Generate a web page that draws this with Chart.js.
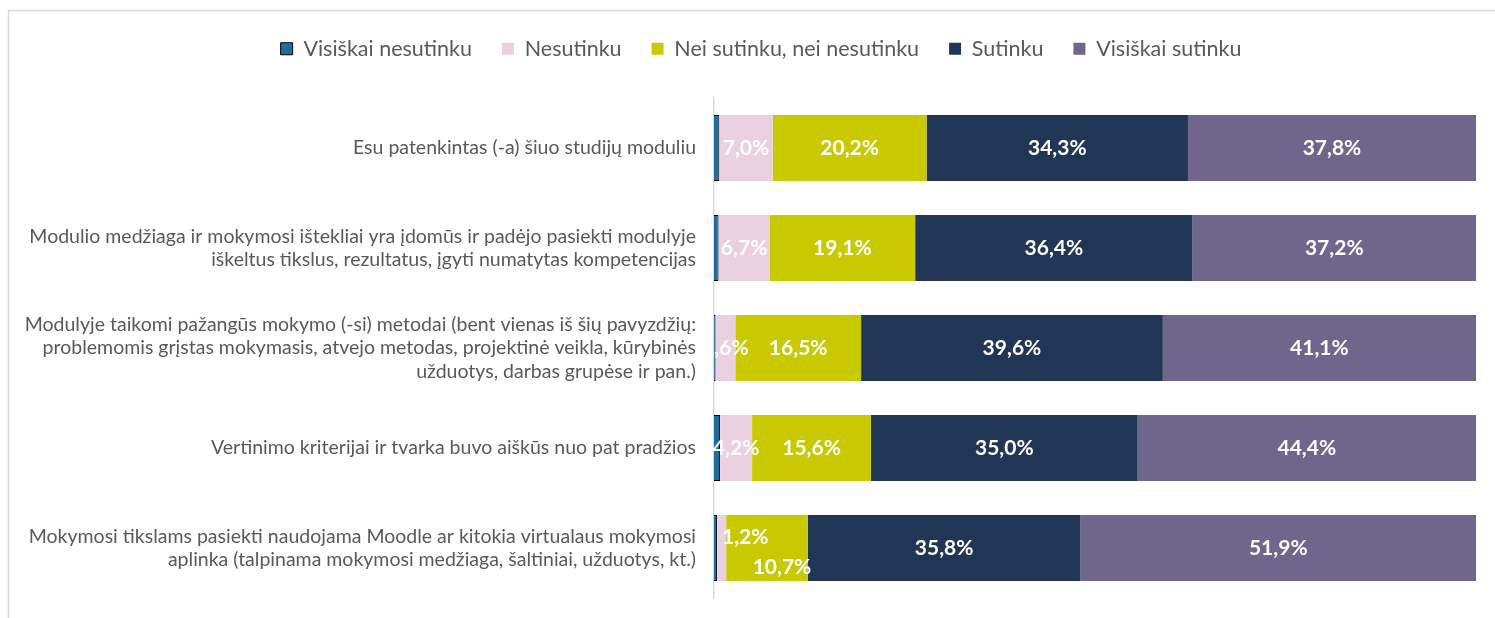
<!DOCTYPE html>
<html>
<head>
<meta charset="utf-8">
<script src="https://cdn.jsdelivr.net/npm/chart.js@4.4.1/dist/chart.umd.min.js"></script>
<style>
  html, body { margin: 0; padding: 0; background: #ffffff; }
  #wrap { position: relative; width: 1495px; height: 618px; }
</style>
</head>
<body>
<div id="wrap"><canvas id="c" width="1495" height="618"></canvas></div>
<script>
const categories = [
  "Esu patenkintas (-a) šiuo studijų moduliu",
  ["Modulio medžiaga ir mokymosi ištekliai yra įdomūs ir padėjo pasiekti modulyje", "iškeltus tikslus, rezultatus, įgyti numatytas kompetencijas"],
  ["Modulyje taikomi pažangūs mokymo (-si) metodai (bent vienas iš šių pavyzdžių:", "problemomis grįstas mokymasis, atvejo metodas, projektinė veikla, kūrybinės", "užduotys, darbas grupėse ir pan.)"],
  "Vertinimo kriterijai ir tvarka buvo aiškūs nuo pat pradžios",
  ["Mokymosi tikslams pasiekti naudojama Moodle ar kitokia virtualaus mokymosi", "aplinka (talpinama mokymosi medžiaga, šaltiniai, užduotys, kt.)"]
];
const seriesNames = ["Visiškai nesutinku", "Nesutinku", "Nei sutinku, nei nesutinku", "Sutinku", "Visiškai sutinku"];
const visiskaiNesutinku = [0.7, 0.6, 0.2, 0.8, 0.4];
const nesutinku = [7.0, 6.7, 2.6, 4.2, 1.2];
const neiSutinku = [20.2, 19.1, 16.5, 15.6, 10.7];
const sutinku = [34.3, 36.4, 39.6, 35.0, 35.8];
const visiskaiSutinku = [37.8, 37.2, 41.1, 44.4, 51.9];

const colors = ["#1F6E9A", "#EBD1E0", "#C9C900", "#213655", "#70668C"];
const seriesData = [visiskaiNesutinku, nesutinku, neiSutinku, sutinku, visiskaiSutinku];
const showLabel = [false, true, true, true, true];

const FONT = "Lato, 'Open Sans', sans-serif";

const frame = {
  id: 'frame',
  beforeDraw(chart) {
    const ctx = chart.ctx;
    ctx.save();
    ctx.fillStyle = '#ffffff';
    ctx.fillRect(0, 0, chart.width, chart.height);
    ctx.strokeStyle = '#d9d9d9';
    ctx.lineWidth = 1.5;
    ctx.beginPath();
    ctx.moveTo(8.5, chart.height);
    ctx.lineTo(8.5, 10.5);
    ctx.lineTo(chart.width, 10.5);
    ctx.stroke();
    ctx.restore();
  }
};

const legendSpace = {
  id: 'legendSpace',
  beforeUpdate(chart) {
    const lg = chart.legend;
    if (lg && !lg._patched) {
      const fit = lg.fit;
      lg.fit = function () { fit.call(this); this.height = 90; };
      lg._patched = true;
    }
  },
  afterLayout(chart) {
    const lg = chart.legend;
    if (lg) { lg.left += 19; lg.right += 19; }
  }
};

const fmt = v => v.toFixed(1).replace('.', ',') + '%';

const barLabels = {
  id: 'barLabels',
  afterDatasetsDraw(chart) {
    const ctx = chart.ctx;
    ctx.save();
    ctx.font = "bold 21px " + FONT;
    ctx.fillStyle = '#ffffff';
    ctx.textAlign = 'center';
    ctx.textBaseline = 'middle';
    const axisLeft = chart.chartArea.left;
    for (let i = 0; i < categories.length; i++) {
      const items = [];
      chart.data.datasets.forEach((ds, d) => {
        if (!showLabel[d]) return;
        const el = chart.getDatasetMeta(d).data[i];
        const txt = fmt(ds.data[i]);
        const w = ctx.measureText(txt).width;
        const cx = (el.x + el.base) / 2;
        items.push({txt, w, x: cx, y: el.y});
      });
      for (let k = 1; k < items.length; k++) {
        const p = items[k - 1], c = items[k];
        if (p.x + p.w / 2 > c.x - c.w / 2 && p.y === c.y) {
          p.y -= 11;
          p.x = Math.max(p.x, axisLeft + p.w / 2 + 8);
          c.y += 19;
          c.x += 15;
        }
      }
      items.forEach(it => ctx.fillText(it.txt, it.x, it.y));
    }
    ctx.restore();
  }
};

new Chart(document.getElementById('c'), {
  type: 'bar',
  data: {
    labels: categories,
    datasets: seriesNames.map((name, d) => ({
      label: name,
      data: seriesData[d],
      backgroundColor: colors[d],
      borderColor: d === 0 ? '#000000' : colors[d],
      borderWidth: d === 0 ? 1 : 0,
      barPercentage: 0.66,
      categoryPercentage: 1.0
    }))
  },
  options: {
    indexAxis: 'y',
    responsive: false,
    animation: false,
    layout: { padding: { top: 8, left: 8, right: 19, bottom: 20 } },
    scales: {
      x: { stacked: true, min: 0, max: 100, display: false },
      y: {
        stacked: true,
        grid: { display: false },
        border: { display: true, color: '#d9d9d9', width: 1.5 },
        ticks: {
          color: '#595959',
          padding: 10,
          font: { family: FONT, size: 19.5, lineHeight: 1.2 }
        },
        afterFit(scale) {
          scale.width = 706;
          scale.paddingTop = 0;
          scale.paddingBottom = 0;
        }
      }
    },
    plugins: {
      legend: {
        position: 'top',
        labels: {
          boxWidth: 12,
          boxHeight: 12,
          padding: 30,
          color: '#595959',
          font: { family: FONT, size: 21.5 }
        }
      },
      tooltip: { enabled: false }
    }
  },
  plugins: [frame, legendSpace, barLabels]
});
</script>
</body>
</html>
